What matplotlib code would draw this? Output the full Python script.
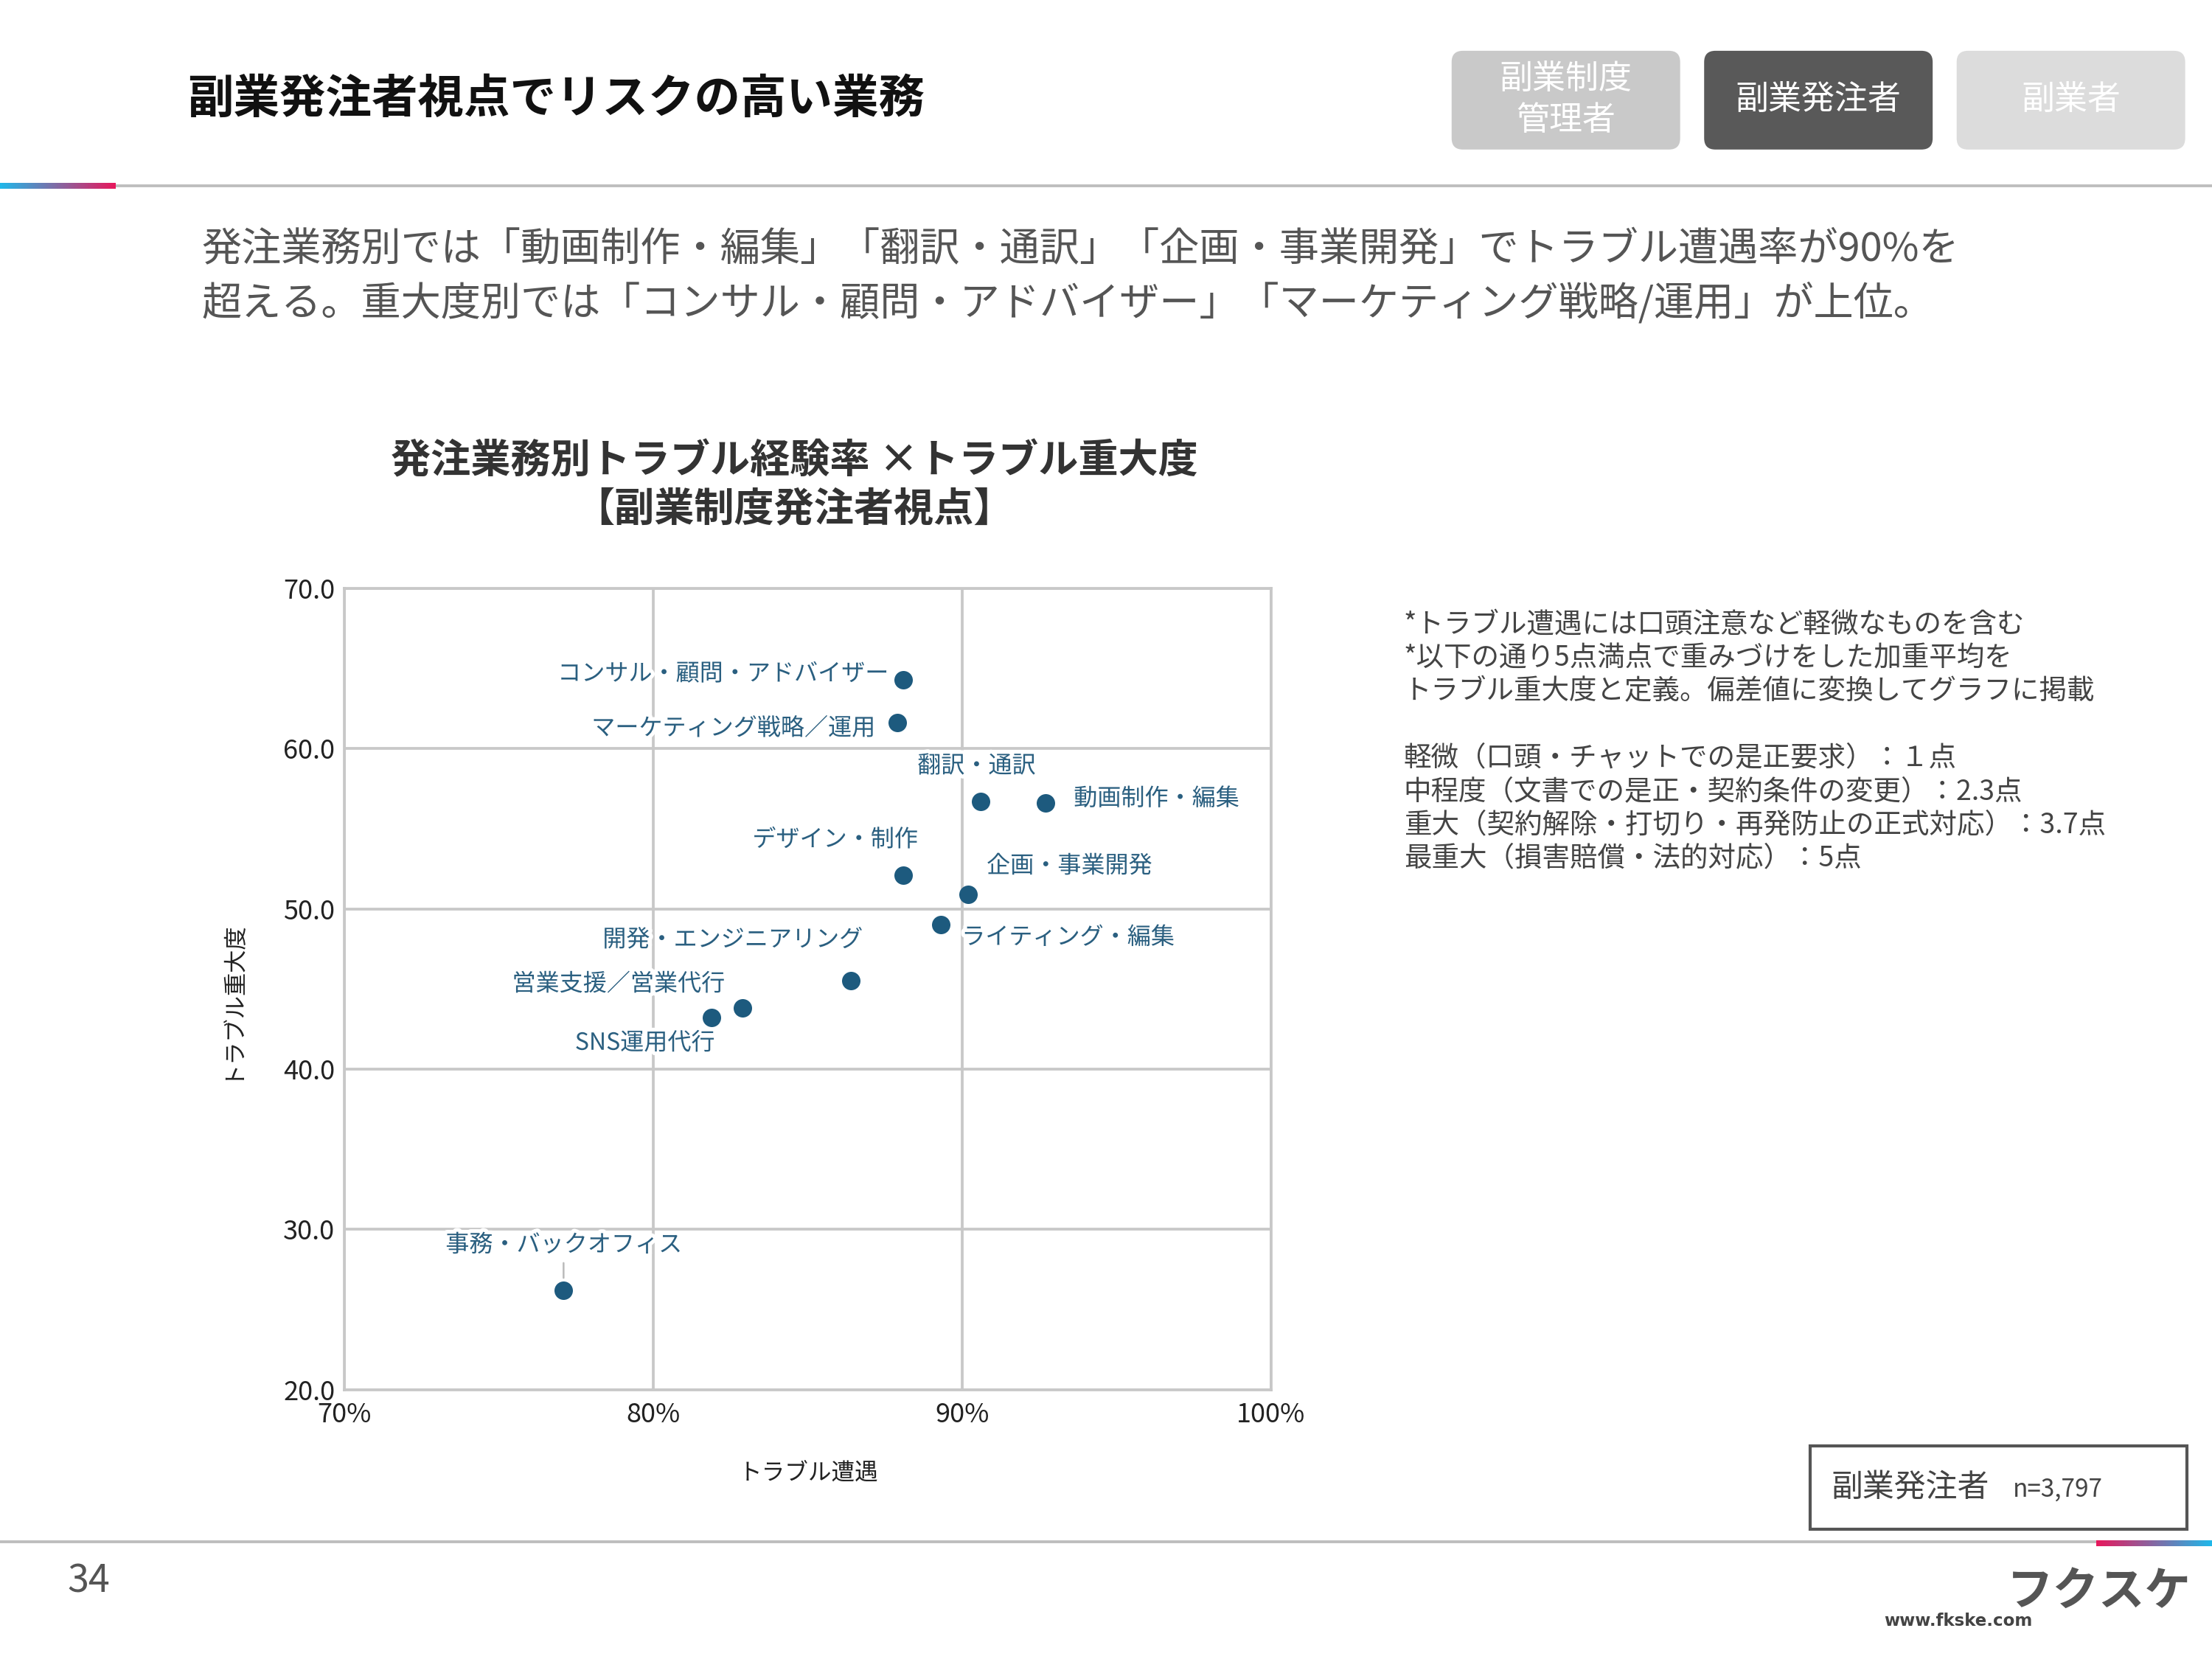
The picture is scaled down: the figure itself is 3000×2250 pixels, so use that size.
import matplotlib
matplotlib.use("Agg")
import matplotlib.pyplot as plt
import matplotlib.patheffects as pe
from matplotlib.patches import FancyBboxPatch, Rectangle
from matplotlib.colors import LinearSegmentedColormap
import numpy as np

plt.rcParams['font.family'] = ['Noto Sans CJK JP', 'DejaVu Sans']

# ---- data ----
jobs = ["コンサル・顧問・アドバイザー", "マーケティング戦略／運用", "翻訳・通訳", "動画制作・編集",
        "デザイン・制作", "企画・事業開発", "ライティング・編集", "開発・エンジニアリング",
        "営業支援／営業代行", "SNS運用代行", "事務・バックオフィス"]
trouble_rate = [88.1, 87.9, 90.6, 92.7, 88.1, 90.2, 89.3, 86.4, 82.9, 81.9, 77.1]
severity = [64.3, 61.6, 56.7, 56.6, 52.1, 50.9, 49.0, 45.5, 43.8, 43.2, 26.2]
x_ticks = [70, 80, 90, 100]
y_ticks = [20, 30, 40, 50, 60, 70]

tabs = ["副業制度\n管理者", "副業発注者", "副業者"]
notes = ["*トラブル遭遇には口頭注意など軽微なものを含む",
         "*以下の通り5点満点で重みづけをした加重平均を",
         "トラブル重大度と定義。偏差値に変換してグラフに掲載",
         "",
         "軽微（口頭・チャットでの是正要求）：１点",
         "中程度（文書での是正・契約条件の変更）：2.3点",
         "重大（契約解除・打切り・再発防止の正式対応）：3.7点",
         "最重大（損害賠償・法的対応）：5点"]

# label placement: offset from point in layout px (x right, y up), alignment
label_pos = [(-11, 4, 'right'), (-16, -4, 'right'), (-3, 25, 'center'), (20, 3, 'left'),
             (10, 25, 'right'), (13, 20, 'left'), (15, -9, 'left'), (8, 29, 'right'),
             (-13, 17, 'right'), (2, -18, 'right'), (0, 32, 'center')]

W, H = 1568, 1176          # layout grid
PT = 3000 / W / 300 * 72   # one layout px in points

fig = plt.figure(figsize=(10, 7.5), dpi=300)
bg = fig.add_axes([0, 0, 1, 1])
bg.set_xlim(0, W)
bg.set_ylim(H, 0)
bg.axis('off')

# header
bg.text(133, 70, "副業発注者視点でリスクの高い業務", fontsize=15, fontweight='bold',
        color='#111111', va='center', ha='left')

tab_x = [1029, 1208, 1387]
tab_col = ['#c9c9c9', '#595959', '#dcdcdc']
for tx, col, t in zip(tab_x, tab_col, tabs):
    bg.add_patch(FancyBboxPatch((tx, 36), 162, 70, boxstyle="round,pad=0,rounding_size=8",
                                fc=col, ec='none'))
    bg.text(tx + 81, 71, t, fontsize=10.8, color='white', ha='center', va='center',
            linespacing=1.25)

# separator lines with gradient ends
grad = np.linspace(0, 1, 200).reshape(1, -1)
cm1 = LinearSegmentedColormap.from_list('g1', ['#1fb8ea', '#e8185c'])
cm2 = LinearSegmentedColormap.from_list('g2', ['#e8185c', '#1fb8ea'])
bg.plot([82, W], [131.5, 131.5], color='#bdbdbd', lw=2 * PT, solid_capstyle='butt')
bg.imshow(grad, cmap=cm1, extent=(0, 82, 134, 130), aspect='auto')
bg.plot([0, 1486], [1093, 1093], color='#bdbdbd', lw=2 * PT, solid_capstyle='butt')
bg.imshow(grad, cmap=cm2, extent=(1486, W, 1096, 1092), aspect='auto')
bg.set_xlim(0, W)
bg.set_ylim(H, 0)

# subtitle
bg.text(143, 177, "発注業務別では「動画制作・編集」「翻訳・通訳」「企画・事業開発」でトラブル遭遇率が90%を",
        fontsize=13.0, color='#555555', va='center', ha='left')
bg.text(143, 215, "超える。重大度別では「コンサル・顧問・アドバイザー」「マーケティング戦略/運用」が上位。",
        fontsize=13.0, color='#555555', va='center', ha='left')

# chart title
bg.text(563, 327, "発注業務別トラブル経験率 ×トラブル重大度", fontsize=13, fontweight='bold',
        color='#333333', ha='center', va='center')
bg.text(563, 361, "【副業制度発注者視点】", fontsize=13, fontweight='bold',
        color='#333333', ha='center', va='center')

# notes
for i, line in enumerate(notes):
    bg.text(995, 443 + i * 23.6, line, fontsize=9, color='#444444', ha='left', va='center')

# sample box
bg.add_patch(Rectangle((1283, 1025), 267, 59, fc='white', ec='#555555', lw=1.0))
bg.text(1298, 1055, "副業発注者", fontsize=10.3, color='#444444', ha='left', va='center')
bg.text(1427, 1056, "n=3,797", fontsize=8, color='#444444', ha='left', va='center')

# footer
bg.text(63, 1121, "34", fontsize=12.5, color='#555555', ha='center', va='center')
bg.text(1488, 1128, "フクスケ", fontsize=15, fontweight='bold', color='#555555',
        ha='center', va='center', fontstyle='italic')
bg.text(1388, 1149, "www.fkske.com", fontsize=5.5, fontweight='bold', color='#444444',
        ha='center', va='center', family='DejaVu Sans')

# ---- scatter chart ----
L, R, T, B = 244, 901, 417, 985
ax = fig.add_axes([L / W, 1 - B / H, (R - L) / W, (B - T) / H])
ax.scatter(trouble_rate, severity, s=36, color='#1d5a7e', zorder=3, linewidths=0)
ax.set_xlim(70, 100)
ax.set_ylim(20, 70)
ax.set_xticks(x_ticks)
ax.set_xticklabels([f"{v}%" for v in x_ticks])
ax.set_yticks(y_ticks)
ax.set_yticklabels([f"{v:.1f}" for v in y_ticks])
ax.tick_params(length=0, labelsize=8.7, colors='#222222')
ax.tick_params(axis='y', pad=3.0)
ax.tick_params(axis='x', pad=4.0)
ax.grid(True, color='#c8c8c8', lw=0.9)
ax.set_axisbelow(True)
for s in ax.spines.values():
    s.set_color('#c8c8c8')
    s.set_linewidth(0.9)

halo = [pe.withStroke(linewidth=2.5, foreground='white')]
for name, x, y, (dx, dy, ha) in zip(jobs, trouble_rate, severity, label_pos):
    arrow = None
    if name.startswith("事務"):
        arrow = dict(arrowstyle='-', color='#bbbbbb', lw=0.6, shrinkA=0, shrinkB=4)
    ax.annotate(name, xy=(x, y), xytext=(dx * PT, dy * PT), textcoords='offset points',
                ha=ha, va='center', fontsize=7.7, color='#2a5f80', path_effects=halo,
                arrowprops=arrow, zorder=4)

bg.text(163, 708, "トラブル重大度", fontsize=7.5, color='#222222', rotation=90,
        ha='center', va='center')
bg.text(573, 1044, "トラブル遭遇", fontsize=7.6, color='#222222', ha='center', va='center')

fig.savefig("out.png", dpi=300)
